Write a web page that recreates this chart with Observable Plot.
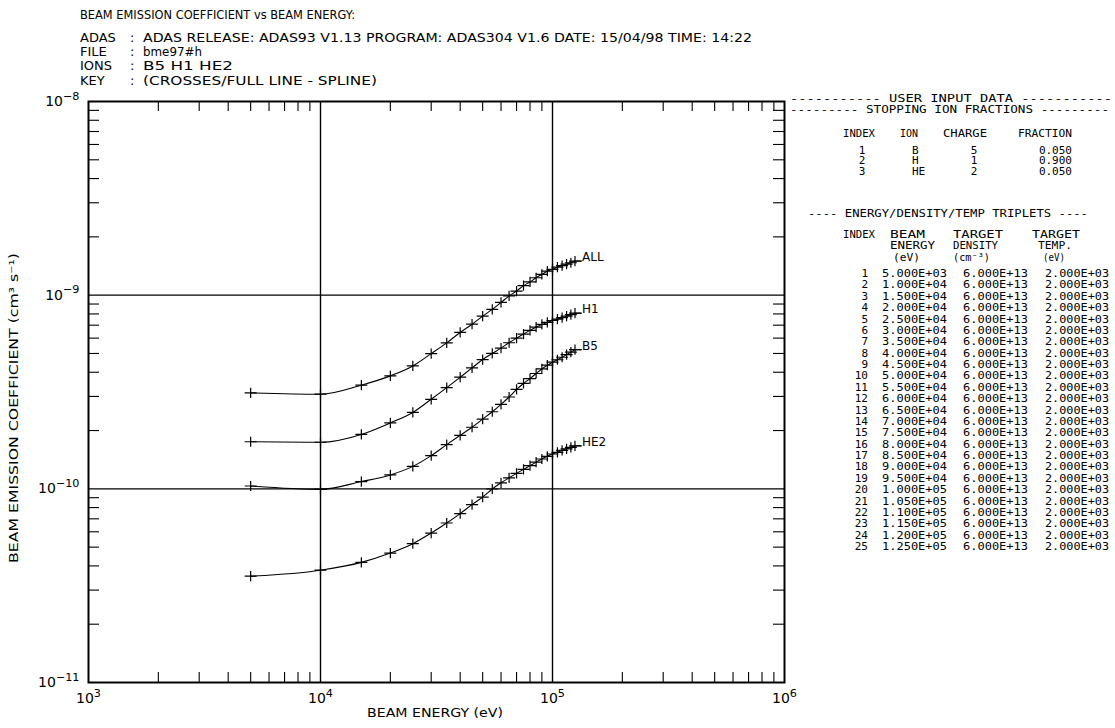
<!DOCTYPE html>
<html><head><meta charset="utf-8">
<script src="https://cdn.jsdelivr.net/npm/d3@7"></script>
<script src="https://cdn.jsdelivr.net/npm/@observablehq/plot@0.6"></script>
<style>
body{margin:0;background:#fff;}
#chart{width:1115px;height:728px;}
</style>
</head><body><div id="chart"></div>
<script>
// ---------- DATA ----------
const energies = [5e3,1e4,1.5e4,2e4,2.5e4,3e4,3.5e4,4e4,4.5e4,5e4,5.5e4,6e4,6.5e4,7e4,7.5e4,8e4,8.5e4,9e4,9.5e4,1e5,1.05e5,1.1e5,1.15e5,1.2e5,1.25e5];
const seriesNames = ["ALL","H1","B5","HE2"];
const valuesALL = [3.13e-10,3.08e-10,3.43e-10,3.83e-10,4.31e-10,4.99e-10,5.67e-10,6.42e-10,7.08e-10,7.79e-10,8.44e-10,9.17e-10,9.92e-10,1.05e-9,1.12e-9,1.17e-9,1.23e-9,1.28e-9,1.33e-9,1.36e-9,1.395e-9,1.42e-9,1.445e-9,1.47e-9,1.50e-9];
const valuesH1 = [1.75e-10,1.74e-10,1.91e-10,2.19e-10,2.48e-10,2.90e-10,3.33e-10,3.77e-10,4.21e-10,4.65e-10,5.00e-10,5.33e-10,5.68e-10,6.00e-10,6.30e-10,6.58e-10,6.84e-10,7.06e-10,7.24e-10,7.40e-10,7.52e-10,7.65e-10,7.79e-10,7.94e-10,8.07e-10];
const valuesB5 = [1.034e-10,0.994e-10,1.09e-10,1.18e-10,1.306e-10,1.484e-10,1.692e-10,1.889e-10,2.08e-10,2.29e-10,2.50e-10,2.73e-10,2.98e-10,3.26e-10,3.50e-10,3.71e-10,3.94e-10,4.16e-10,4.35e-10,4.51e-10,4.64e-10,4.78e-10,4.93e-10,5.08e-10,5.23e-10];
const valuesHE2 = [3.54e-11,3.80e-11,4.17e-11,4.66e-11,5.21e-11,5.91e-11,6.66e-11,7.45e-11,8.29e-11,9.07e-11,9.98e-11,1.074e-10,1.140e-10,1.202e-10,1.26e-10,1.318e-10,1.374e-10,1.426e-10,1.472e-10,1.513e-10,1.544e-10,1.58e-10,1.61e-10,1.639e-10,1.668e-10];

const xTicks = [1e3,1e4,1e5,1e6];
const yTicks = [1e-11,1e-10,1e-9,1e-8];
const xGrid = [1e4,1e5];
const yGrid = [1e-10,1e-9];

const titleText = "BEAM EMISSION COEFFICIENT vs BEAM ENERGY:";
const headerKeys = ["ADAS","FILE","IONS","KEY"];
const headerValues = ["ADAS RELEASE: ADAS93 V1.13 PROGRAM: ADAS304 V1.6 DATE: 15/04/98 TIME: 14:22","bme97#h","B5 H1 HE2","(CROSSES/FULL LINE - SPLINE)"];
const xTitle = "BEAM ENERGY (eV)";
const yTitle = "BEAM EMISSION COEFFICIENT (cm³ s⁻¹)";

const ionIndex = [1,2,3];
const ionNames = ["B","H","HE"];
const ionCharges = [5,1,2];
const ionFractions = ["0.050","0.900","0.050"];
const targetDensity = "6.000E+13";
const targetTemp = "2.000E+03";

// ---------- BUILD ----------
const seriesValues = {ALL: valuesALL, H1: valuesH1, B5: valuesB5, HE2: valuesHE2};
const data = seriesNames.flatMap(s => energies.map((e, i) => ({series: s, energy: e, value: seriesValues[s][i]})));

const minorX = [], minorY = [];
for (const d of [1e3,1e4,1e5]) for (let k = 2; k <= 9; k++) minorX.push(k * d);
for (const d of [1e-11,1e-10,1e-9]) for (let k = 2; k <= 9; k++) minorY.push(k * d);

const W = 1115, H = 728, mL = 88, mR = 331, mT = 101, mB = 46;
const fw = W - mL - mR, fh = H - mT - mB;

const cross = {draw(ctx, size) { const r = Math.sqrt(size / Math.PI); ctx.moveTo(-r, 0); ctx.lineTo(r, 0); ctx.moveTo(0, -r*0.85); ctx.lineTo(0, r*0.85); }};
const tail = {draw(ctx, size) { const r = Math.sqrt(size / Math.PI); ctx.moveTo(0, 0); ctx.lineTo(r, 0); }};

const sup = v => "10^" + String(Math.round(Math.log10(v))).replace("-", "−");

const svg = Plot.plot({
  width: W, height: H,
  marginLeft: mL, marginRight: mR, marginTop: mT, marginBottom: mB,
  style: {fontFamily: "'DejaVu Sans', sans-serif", fontSize: "14px", color: "black", background: "white"},
  x: {type: "log", domain: [1e3, 1e6]},
  y: {type: "log", domain: [1e-11, 1e-8]},
  marks: [
    Plot.ruleX(xGrid, {stroke: "black", strokeWidth: 1.4}),
    Plot.ruleY(yGrid, {stroke: "black", strokeWidth: 1.4}),
    Plot.tickX(minorX, {x: d => d, insetTop: fh - 10, stroke: "black", strokeWidth: 1.1}),
    Plot.tickX(minorX, {x: d => d, insetBottom: fh - 10, stroke: "black", strokeWidth: 1.1}),
    Plot.tickY(minorY, {y: d => d, insetRight: fw - 11, stroke: "black", strokeWidth: 1.1}),
    Plot.tickY(minorY, {y: d => d, insetLeft: fw - 11, stroke: "black", strokeWidth: 1.1}),
    Plot.frame({stroke: "black", strokeWidth: 2}),
    Plot.line(data, {x: "energy", y: "value", z: "series", stroke: "black", strokeWidth: 1.1, curve: "monotone-x"}),
    Plot.dot(data, {x: "energy", y: "value", symbol: cross, r: 6, stroke: "black", fill: "none", strokeWidth: 1.2}),
    Plot.dot(data, Plot.selectLast({x: "energy", y: "value", z: "series", symbol: tail, r: 7, stroke: "black", fill: "none", strokeWidth: 1.1})),
    Plot.text(data, Plot.selectLast({x: "energy", y: "value", z: "series", text: "series", textAnchor: "start", dx: 7, dy: -4, fontSize: 12, fill: "black"})),
    Plot.axisX({anchor: "bottom", ticks: xTicks, tickSize: 0, tickPadding: 11, tickFormat: sup, label: null, fontSize: 14}),
    Plot.axisY({anchor: "left", ticks: yTicks, tickSize: 0, tickPadding: 9, tickFormat: sup, label: null, fontSize: 14})
  ]
});

// superscripts on tick labels
for (const lab of ["x-axis tick label", "y-axis tick label"]) {
  d3.select(svg).selectAll(`g[aria-label="${lab}"] text`).each(function() {
    const t = d3.select(this);
    const [b, e] = t.text().split("^");
    if (e === undefined) return;
    t.text(null);
    t.append("tspan").text(b);
    t.append("tspan").attr("dy", "-0.55em").attr("font-size", "0.8em").text(e);
  });
}

// ---------- TEXT OVERLAY ----------
const g = d3.select(svg).append("g").attr("fill", "black").attr("text-anchor", "start").attr("font-family", "'DejaVu Sans', sans-serif");
function txt(parent, x, y, s, o = {}) {
  const t = parent.append("text").attr("x", x).attr("y", y).attr("text-anchor", o.anchor || "start").text(s);
  if (o.size) t.attr("font-size", o.size);
  if (o.len) t.attr("textLength", o.len).attr("lengthAdjust", "spacingAndGlyphs");
  if (o.transform) t.attr("transform", o.transform);
  return t;
}
// header
txt(g, 80, 19, titleText, {size: 13, len: 275});
const hy = [42, 56, 70, 84.5];
const hvLen = [609, 59, 90, 234];
headerKeys.forEach((k, i) => {
  txt(g, 80, hy[i], k, {size: 13});
  txt(g, 130, hy[i], ":", {size: 13});
  txt(g, 143, hy[i], headerValues[i], {size: 13, len: hvLen[i]});
});
// axis titles
txt(g, 435, 717, xTitle, {size: 13, anchor: "middle", len: 136});
txt(g, 0, 0, yTitle, {size: 13, anchor: "middle", len: 310, transform: "translate(17.5,408) rotate(-90)"});

// right panel
const p = d3.select(svg).append("g").attr("fill", "black").attr("text-anchor", "start").attr("font-family", "'DejaVu Sans Mono', monospace").attr("font-size", 11);
txt(p, 790, 101.5, "----------- USER INPUT DATA -----------", {len: 322});
txt(p, 790, 113, "--------- STOPPING ION FRACTIONS ---------", {len: 319});
txt(p, 843, 137, "INDEX", {len: 32});
txt(p, 900, 137, "ION", {len: 18});
txt(p, 943, 137, "CHARGE", {len: 44});
txt(p, 1018, 137, "FRACTION", {len: 54});
ionIndex.forEach((v, i) => {
  const y = 153.5 + i * 10.9;
  txt(p, 862, y, String(v), {anchor: "middle"});
  txt(p, 912, y, ionNames[i]);
  txt(p, 974, y, String(ionCharges[i]), {anchor: "middle"});
  txt(p, 1072, y, ionFractions[i], {anchor: "end"});
});
txt(p, 808, 216.5, "---- ENERGY/DENSITY/TEMP TRIPLETS ----", {len: 280});
txt(p, 843, 238.3, "INDEX", {len: 32});
txt(p, 890, 238.3, "BEAM", {len: 35, size: 10});
txt(p, 890, 249, "ENERGY", {len: 45, size: 10});
txt(p, 893, 260.5, "(eV)", {len: 27, size: 10});
txt(p, 953, 238.3, "TARGET", {len: 50, size: 10});
txt(p, 953, 249, "DENSITY", {len: 45, size: 10});
txt(p, 953, 260.5, "(cm⁻³)", {len: 37, size: 10});
txt(p, 1032, 238.3, "TARGET", {len: 48, size: 10});
txt(p, 1038, 249, "TEMP.", {len: 34, size: 10});
txt(p, 1043, 260.5, "(eV)", {len: 22, size: 10});
const fmtE = v => { const ex = Math.floor(Math.log10(v) + 1e-9); const m = v / Math.pow(10, ex); return m.toFixed(3) + "E" + (ex < 0 ? "-" : "+") + String(Math.abs(ex)).padStart(2, "0"); };
energies.forEach((e, i) => {
  const y = 277 + i * 11.375;
  txt(p, 868, y, String(i + 1), {anchor: "end"});
  txt(p, 882, y, fmtE(e), {len: 65});
  txt(p, 963, y, targetDensity, {len: 65});
  txt(p, 1045, y, targetTemp, {len: 64});
});

document.getElementById("chart").appendChild(svg);
</script>
</body></html>
